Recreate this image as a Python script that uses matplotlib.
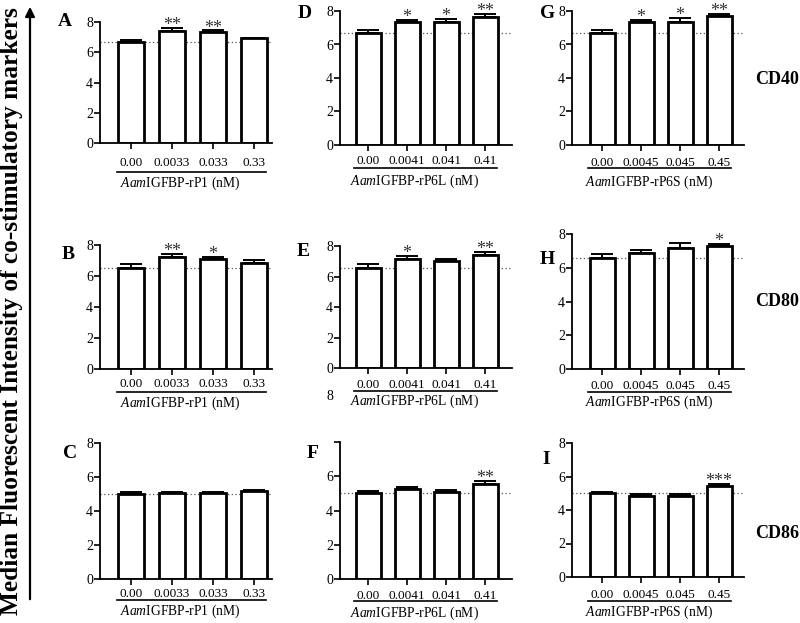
import matplotlib
matplotlib.use("Agg")
import matplotlib.pyplot as plt
from matplotlib.transforms import ScaledTranslation
from matplotlib.lines import Line2D

plt.rcParams["font.family"] = ["Liberation Serif", "DejaVu Serif"]
plt.rcParams["mathtext.fontset"] = "custom"
plt.rcParams["mathtext.rm"] = "Liberation Serif"
plt.rcParams["mathtext.it"] = "Liberation Serif:italic"

# data
proteins = ["rP1", "rP6L", "rP6S"]
conc_rP1 = ["0.00", "0.0033", "0.033", "0.33"]
conc_rP6L = ["0.00", "0.0041", "0.041", "0.41"]
conc_rP6S = ["0.00", "0.0045", "0.045", "0.45"]
markers = ["CD40", "CD80", "CD86"]
letters = [["A", "D", "G"], ["B", "E", "H"], ["C", "F", "I"]]

# rows = markers, columns = proteins
mean_cd40 = [[6.69, 7.42, 7.32, 6.92], [6.71, 7.34, 7.34, 7.64], [6.71, 7.34, 7.34, 7.68]]
err_cd40 = [[0.12, 0.20, 0.12, 0.05], [0.15, 0.14, 0.20, 0.16], [0.15, 0.14, 0.22, 0.13]]
sig_cd40 = [["", "**", "**", ""], ["", "*", "*", "**"], ["", "*", "*", "**"]]

mean_cd80 = [[6.54, 7.21, 7.10, 6.87], [6.57, 7.17, 7.02, 7.39], [6.58, 6.86, 7.17, 7.29]]
err_cd80 = [[0.24, 0.19, 0.15, 0.15], [0.23, 0.17, 0.13, 0.20], [0.22, 0.20, 0.28, 0.12]]
sig_cd80 = [["", "**", "*", ""], ["", "*", "", "**"], ["", "", "", "*"]]

mean_cd86 = [[5.02, 5.03, 5.03, 5.15], [5.03, 5.24, 5.10, 5.57], [5.01, 4.84, 4.86, 5.44]]
err_cd86 = [[0.09, 0.09, 0.10, 0.10], [0.09, 0.14, 0.11, 0.16], [0.09, 0.09, 0.09, 0.12]]
sig_cd86 = [["", "", "", ""], ["", "", "", "**"], ["", "", "", "***"]]

yticks = [0, 2, 4, 6, 8]

concs = [conc_rP1, conc_rP6L, conc_rP6S]
means = [mean_cd40, mean_cd80, mean_cd86]
errs = [err_cd40, err_cd80, err_cd86]
sigs = [sig_cd40, sig_cd80, sig_cd86]

W, H = 800, 623
fig = plt.figure(figsize=(W / 100, H / 100), dpi=100)

# layout in pixels (left, right) per column, (top, bottom) per panel
col_px = [(100, 272), (340, 512), (572, 744)]
col_xlim = [(-0.76, 3.44), (-0.72, 3.69), (-0.77, 3.64)]
row_px = [[(22, 143), (11, 145), (11, 145)],
          [(245, 369), (246, 368), (234, 369)],
          [(443, 579), (442, 579), (443, 577)]]
letter_px = [[(65, 22), (305, 13), (548, 13)],
             [(68, 254), (303, 252), (547, 260)],
             [(70, 454), (313, 453), (546, 460)]]
# tick label centre, underline, xlabel centre (px below axis)
offs = [[(19, 29, 40), (15, 23, 36), (17, 23, 37)],
        [(14, 23, 34), (16, 23, 33), (16, 23, 33)],
        [(14, 21, 32), (16, 22, 34), (17, 24, 35)]]
marker_px = [(777, 79), (777, 302), (777, 534)]


def below(ax, px):
    return ax.get_xaxis_transform() + ScaledTranslation(0, -px / 100, fig.dpi_scale_trans)


for r in range(3):
    for c in range(3):
        x0, x1 = col_px[c]
        yt, yb = row_px[r][c]
        ax = fig.add_axes([x0 / W, 1 - yb / H, (x1 - x0) / W, (yb - yt) / H])
        m = means[r][c]
        e = errs[r][c]
        xs = list(range(len(m)))
        ax.axhline(m[0], color="#555555", lw=0.9, ls=(0, (1, 2)), zorder=1)
        ax.bar(xs, m, width=0.64, color="white", edgecolor="black", lw=2.0, zorder=2)
        ax.errorbar(xs, m, yerr=[[0] * len(e), e], fmt="none", ecolor="black",
                    elinewidth=1.4, capsize=8, capthick=1.4, zorder=3)
        for x, v, s, s_txt in zip(xs, m, e, sigs[r][c]):
            if s_txt:
                ax.annotate(s_txt, (x, v + s), xytext=(0, -1.5), textcoords="offset points",
                            ha="center", va="baseline", fontsize=13, color="#333333")
        ax.set_xlim(*col_xlim[c])
        ax.set_ylim(0, 8)
        ax.set_yticks(yticks)
        if r == 2 and c == 1:
            ax.set_yticklabels(["0", "2", "4", "6", ""])
        ax.spines["top"].set_visible(False)
        ax.spines["right"].set_visible(False)
        for sp in ("left", "bottom"):
            ax.spines[sp].set_linewidth(1.3)
        ax.set_xticks(xs)
        ax.set_xticklabels(concs[c])
        lab_c, ul, xl = offs[r][c]
        ax.tick_params(axis="y", length=4, width=1.2, pad=1, labelsize=10)
        ax.tick_params(axis="x", length=4, width=1.2, pad=(lab_c - 11) * 0.72, labelsize=9.5)
        ax.patch.set_visible(False)
        ax.add_line(Line2D([-0.35, 3.3], [0, 0], transform=below(ax, ul),
                           color="black", lw=1.2, clip_on=False))
        ax.text(1.2, 0, r"$\mathit{Aam}$IGFBP-" + proteins[c] + " (nM)", transform=below(ax, xl),
                ha="center", va="center", fontsize=9.8)
        lx, ly = letter_px[r][c]
        fig.text(lx / W, 1 - ly / H, letters[r][c], ha="center", va="center",
                 fontsize=14, fontweight="bold")

for name, (mx, my) in zip(markers, marker_px):
    fig.text(mx / W, 1 - my / H, name, ha="center", va="center", fontsize=13, fontweight="bold")

# stray tick label that sits below panel E in the original
fig.text(330 / W, 1 - 397 / H, "8", ha="center", va="center", fontsize=10)

fig.text(12 / W, 0.5, "Median Fluorescent Intensity of co-stimulatory markers", rotation=90,
         ha="center", va="center", fontsize=18.3, fontweight="bold")
fig.add_artist(matplotlib.patches.FancyArrowPatch((30 / W, 1 - 602 / H), (30 / W, 1 - 4 / H),
                                                  transform=fig.transFigure, arrowstyle="-|>",
                                                  mutation_scale=14, lw=1.6, color="black"))

fig.savefig("out.png", dpi=100)
